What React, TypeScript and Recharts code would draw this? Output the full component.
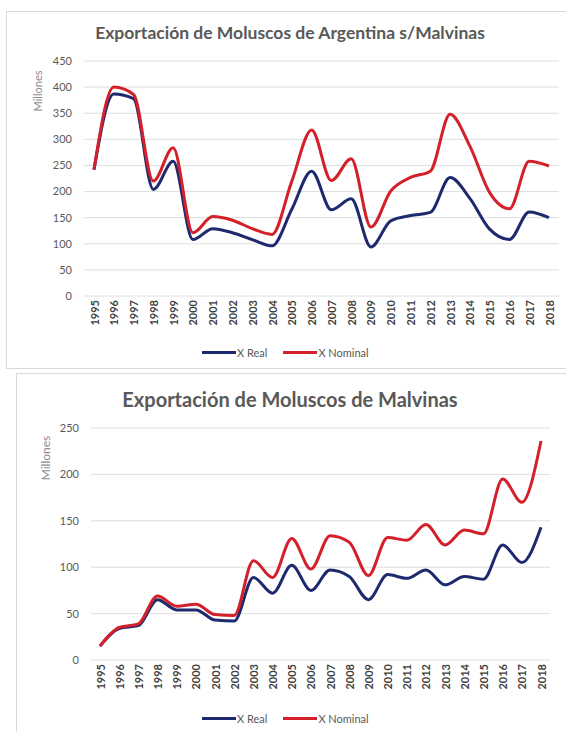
import { LineChart, Line, XAxis, YAxis, CartesianGrid } from "recharts";

const YEARS = [
  "1995", "1996", "1997", "1998", "1999", "2000", "2001", "2002", "2003", "2004", "2005", "2006",
  "2007", "2008", "2009", "2010", "2011", "2012", "2013", "2014", "2015", "2016", "2017", "2018",
];

// Argentina s/Malvinas (millones)
const ARG_REAL = [242, 387, 378, 204, 258, 108, 129, 121, 108, 96, 166, 239, 165, 186, 94, 144, 154, 160, 227, 187, 128, 108, 161, 150];
const ARG_NOMINAL = [242, 400, 386, 220, 284, 121, 152, 145, 129, 118, 220, 318, 221, 263, 132, 201, 227, 239, 348, 287, 198, 167, 258, 249];
const ARG_TICKS = [0, 50, 100, 150, 200, 250, 300, 350, 400, 450];

// Malvinas (millones)
const MAL_REAL = [15, 34, 37, 65, 54, 54, 43, 42, 89, 72, 102, 75, 97, 90, 65, 92, 88, 97, 81, 90, 87, 124, 105, 143];
const MAL_NOMINAL = [15, 35, 39, 69, 58, 60, 49, 48, 107, 89, 131, 98, 134, 127, 91, 132, 129, 146, 124, 140, 136, 195, 170, 236];
const MAL_TICKS = [0, 50, 100, 150, 200, 250];

const BLUE = "#1f2a6e";
const RED = "#d3202a";
const GREY = "#595959";
const FONT = "Lato, 'Open Sans', sans-serif";

const YearTick = ({ x, y, payload }: any) => (
  <text
    x={x}
    y={y}
    transform={`rotate(-90, ${x}, ${y})`}
    textAnchor="end"
    dominantBaseline="central"
    fontSize={11}
    fontWeight={700}
    fill="#404040"
    fontFamily={FONT}
  >
    {payload.value}
  </text>
);

function Legend({ top }: { top: number }) {
  const item = (color: string, label: string) => (
    <div style={{ display: "flex", alignItems: "center", marginRight: 16 }}>
      <div style={{ width: 34, height: 3, background: color }} />
      <span style={{ fontSize: 11, color: GREY, fontFamily: FONT, marginLeft: 1 }}>{label}</span>
    </div>
  );
  return (
    <div style={{ position: "absolute", top: top - 8, left: 202, height: 16, display: "flex", alignItems: "center" }}>
      {item(BLUE, "X Real")}
      {item(RED, "X Nominal")}
    </div>
  );
}

interface ChartProps {
  real: number[];
  nominal: number[];
  ticks: number[];
  width: number;
  height: number;
  margin: { top: number; right: number; left: number; bottom: number };
  pad: number;
}

function MolChart({ real, nominal, ticks, width, height, margin, pad }: ChartProps) {
  const data = YEARS.map((year, i) => ({ year, real: real[i], nominal: nominal[i] }));
  return (
    <LineChart width={width} height={height} data={data} margin={margin}>
      <CartesianGrid stroke="#dedede" vertical={false} />
      <XAxis
        dataKey="year"
        interval={0}
        axisLine={false}
        tickLine={false}
        tickSize={0}
        tickMargin={4}
        height={40}
        padding={{ left: pad, right: pad }}
        tick={<YearTick />}
      />
      <YAxis
        domain={[ticks[0], ticks[ticks.length - 1]]}
        ticks={ticks}
        interval={0}
        width={28}
        axisLine={false}
        tickLine={false}
        tickSize={0}
        tickMargin={12}
        tick={{ fill: GREY, fontSize: 11, fontFamily: FONT }}
      />
      <Line type="monotone" dataKey="real" name="X Real" stroke={BLUE} strokeWidth={3} dot={false} isAnimationActive={false} />
      <Line type="monotone" dataKey="nominal" name="X Nominal" stroke={RED} strokeWidth={3} dot={false} isAnimationActive={false} />
    </LineChart>
  );
}

export default function App() {
  return (
    <div style={{ position: "absolute", left: 0, top: 0, width: 566, height: 732, overflow: "hidden", background: "#fff" }}>
      {/* chart 1 */}
      <div style={{ position: "absolute", left: 6, top: 11, width: 600, height: 356, border: "1px solid #d9d9d9" }} />
      <div style={{ position: "absolute", left: 6, top: 11 }}>
        <MolChart
          real={ARG_REAL}
          nominal={ARG_NOMINAL}
          ticks={ARG_TICKS}
          width={560}
          height={356}
          margin={{ top: 50, right: 7, left: 50, bottom: 31 }}
          pad={10}
        />
      </div>
      <div style={{ position: "absolute", left: 70, top: 22, width: 440, textAlign: "center", fontFamily: FONT, fontWeight: 700, fontSize: 17.5, color: GREY }}>
        Exportación de Moluscos de Argentina s/Malvinas
      </div>
      <div style={{ position: "absolute", left: 37, top: 91, transform: "translate(-50%, -50%) rotate(-90deg)", fontFamily: FONT, fontSize: 11, color: "#8c8c8c", whiteSpace: "nowrap" }}>
        Millones
      </div>
      <Legend top={352} />

      {/* chart 2 */}
      <div style={{ position: "absolute", left: 16, top: 373, width: 600, height: 400, border: "1px solid #d9d9d9" }} />
      <div style={{ position: "absolute", left: 16, top: 373 }}>
        <MolChart
          real={MAL_REAL}
          nominal={MAL_NOMINAL}
          ticks={MAL_TICKS}
          width={550}
          height={359}
          margin={{ top: 55, right: 16, left: 47, bottom: 32 }}
          pad={9}
        />
      </div>
      <div style={{ position: "absolute", left: 70, top: 387, width: 440, textAlign: "center", fontFamily: FONT, fontWeight: 700, fontSize: 20, color: GREY }}>
        Exportación de Moluscos de Malvinas
      </div>
      <div style={{ position: "absolute", left: 45, top: 458, transform: "translate(-50%, -50%) rotate(-90deg)", fontFamily: FONT, fontSize: 12, color: "#8c8c8c", whiteSpace: "nowrap" }}>
        Millones
      </div>
      <Legend top={718} />
    </div>
  );
}
